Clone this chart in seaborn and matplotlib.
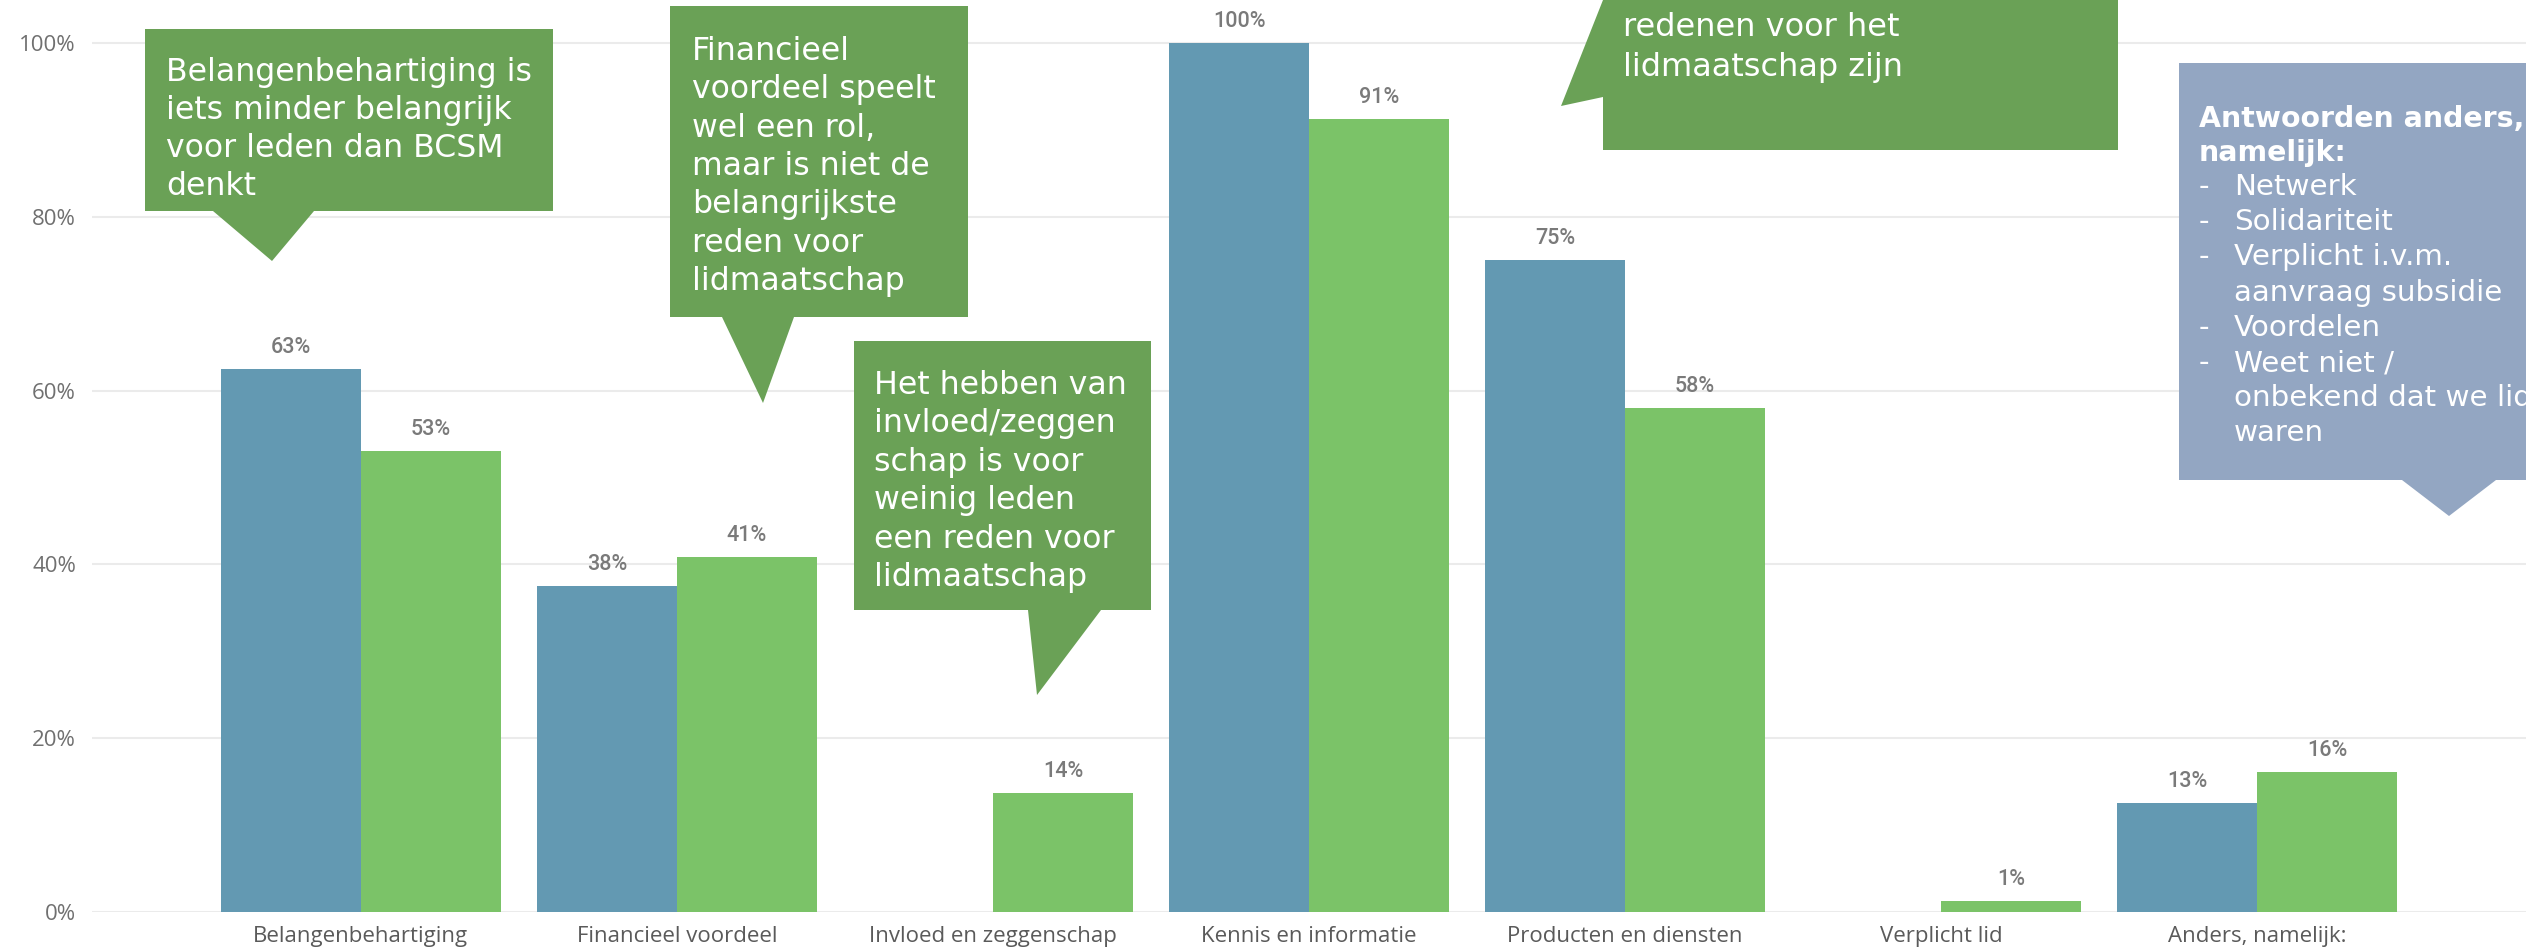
import numpy as np
import pandas as pd
import matplotlib.pyplot as plt
from matplotlib.patches import Polygon
import seaborn as sns

# data
redenen = ["Belangenbehartiging", "Financieel voordeel", "Invloed en zeggenschap",
           "Kennis en informatie", "Producten en diensten", "Verplicht lid", "Anders, namelijk:"]
groepen = ["BCSM", "Leden"]
bcsm = [0.625, 0.375, 0.0, 1.0, 0.75, 0.0, 0.125]
leden = [0.53, 0.408, 0.137, 0.913, 0.58, 0.013, 0.161]
yticks = [0, 0.2, 0.4, 0.6, 0.8, 1.0]
ytick_labels = ["0%", "20%", "40%", "60%", "80%", "100%"]

callout_belang = ["Belangenbehartiging is", "iets minder belangrijk", "voor leden dan BCSM", "denkt"]
callout_financieel = ["Financieel", "voordeel speelt", "wel een rol,", "maar is niet de",
                      "belangrijkste", "reden voor", "lidmaatschap"]
callout_invloed = ["Het hebben van", "invloed/zeggen", "schap is voor", "weinig leden",
                   "een reden voor", "lidmaatschap"]
callout_kennis = ["redenen voor het", "lidmaatschap zijn"]
anders_kop = ["Antwoorden anders,", "namelijk:"]
anders_items = [("-", "Netwerk"), ("-", "Solidariteit"), ("-", "Verplicht i.v.m."),
                ("", "aanvraag subsidie"), ("-", "Voordelen"), ("-", "Weet niet /"),
                ("", "onbekend dat we lid"), ("", "waren")]

blue = "#6399B2"
green = "#7BC368"
note_green = "#6AA156"
note_grey = "#93A6C2"

df = pd.DataFrame({
    "reden": redenen * 2,
    "groep": [groepen[0]] * len(redenen) + [groepen[1]] * len(redenen),
    "aandeel": bcsm + leden,
})

sns.set_theme(style="white")
plt.rcParams["font.family"] = ["Open Sans", "DejaVu Sans"]

W, H = 2526, 949
fig = plt.figure(figsize=(W / 100, H / 100), dpi=100)
ax = fig.add_axes([92 / W, 1 - 912 / H, 1 - 92 / W, 912 / H])

sns.barplot(data=df, x="reden", y="aandeel", hue="groep", palette=[blue, green],
            width=0.886, gap=0, saturation=1, errorbar=None, legend=False, ax=ax,
            linewidth=0)

for cont, vals in zip(ax.containers, [bcsm, leden]):
    labels = [f"{int(v * 100 + 0.5)}%" if v > 0 else "" for v in vals]
    ax.bar_label(cont, labels=labels, padding=8, fontsize=15.5, color="#7A7A7A",
                 fontfamily="Roboto", fontweight="medium")

ax.set_xlim(-0.851, 6.851)
ax.set_ylim(0, 1.0495)
ax.set_yticks(yticks, ytick_labels)
ax.set_xlabel("")
ax.set_ylabel("")
ax.yaxis.grid(True, color="#EBEBEB", lw=1.5)
ax.set_axisbelow(True)
ax.tick_params(axis="x", length=0, pad=10, labelsize=16, labelcolor="#5A5A5A")
ax.tick_params(axis="y", length=0, pad=11.5, labelsize=16, labelcolor="#707070")
sns.despine(ax=ax, left=True, bottom=True)


def px(x, y):
    return (x / W, 1 - y / H)


def note(shape, color, lines, x, y0, step, size, weight="normal"):
    if shape is not None:
        fig.add_artist(Polygon([px(a, b) for a, b in shape], closed=True,
                               transform=fig.transFigure, fc=color, ec="none"))
    for i, line in enumerate(lines):
        fig.text(*px(x, y0 + i * step), line, color="white", fontsize=size,
                 fontweight=weight, family="DejaVu Sans", va="baseline", ha="left")


note([(145, 29), (553, 29), (553, 211), (314, 211), (272, 261), (213, 211), (145, 211)],
     note_green, callout_belang, 166, 81, 38, 22.7)
note([(670, 6), (968, 6), (968, 317), (794, 317), (763, 403), (722, 317), (670, 317)],
     note_green, callout_financieel, 692, 60, 38.3, 22.7)
note([(854, 341), (1151, 341), (1151, 610), (1101, 610), (1037, 695), (1028, 610), (854, 610)],
     note_green, callout_invloed, 874, 394, 38.4, 22.8)
note([(1603, -60), (2118, -60), (2118, 150), (1603, 150), (1603, 97), (1561, 106), (1603, 0)],
     note_green, callout_kennis, 1623, 36, 40, 23)
note([(2179, 63), (2600, 63), (2600, 480), (2496, 480), (2449, 516), (2402, 480), (2179, 480)],
     note_grey, anders_kop, 2199, 127, 34, 20.4, weight="bold")
note(None, None, [d for d, _ in anders_items], 2199, 195, 35.2, 21.2)
note(None, None, [t for _, t in anders_items], 2234, 195, 35.2, 21.2)

fig.savefig("out.png", dpi=100)
